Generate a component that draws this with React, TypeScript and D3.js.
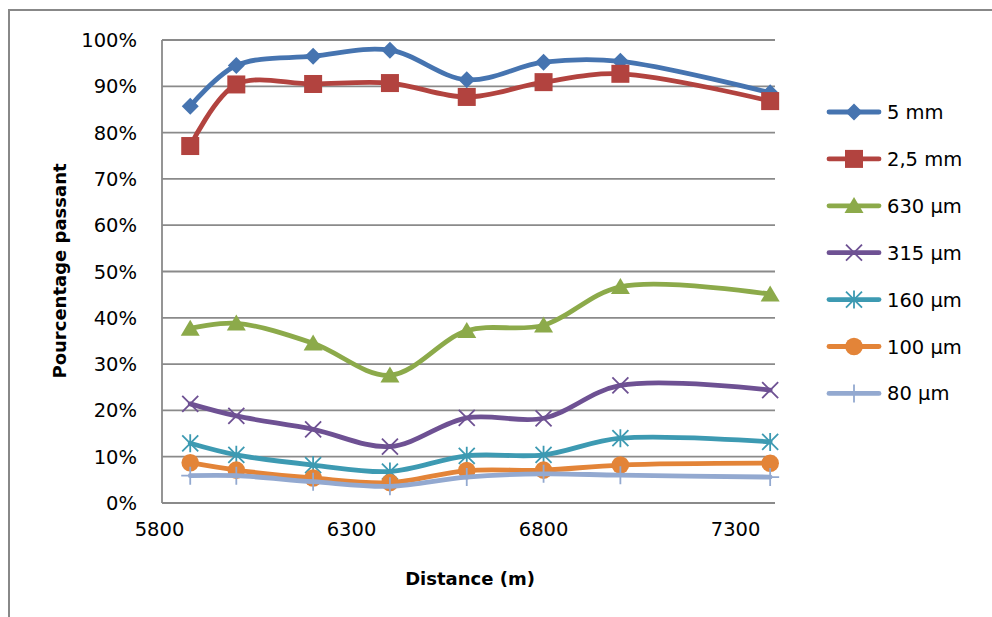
import React from "react";
import * as d3 from "d3";

const distances = [5880, 6000, 6200, 6400, 6600, 6800, 7000, 7390];
const s5mm = [85.7, 94.5, 96.5, 97.8, 91.4, 95.2, 95.4, 88.6];
const s2_5mm = [77.1, 90.4, 90.5, 90.7, 87.7, 90.9, 92.7, 86.8];
const s630 = [37.7, 38.8, 34.5, 27.6, 37.2, 38.4, 46.7, 45.1];
const s315 = [21.4, 18.8, 15.9, 12.2, 18.4, 18.3, 25.4, 24.4];
const s160 = [12.9, 10.4, 8.2, 6.8, 10.2, 10.4, 14.0, 13.2];
const s100 = [8.7, 7.1, 5.4, 4.4, 7.0, 7.1, 8.2, 8.6];
const s80 = [5.9, 5.9, 4.6, 3.6, 5.6, 6.3, 6.0, 5.6];

const seriesNames = ["5 mm", "2,5 mm", "630 µm", "315 µm", "160 µm", "100 µm", "80 µm"];
const seriesValues = [s5mm, s2_5mm, s630, s315, s160, s100, s80];
const seriesColors = ["#4674B0", "#B2433F", "#8CAA4A", "#6E5193", "#3D9AB2", "#E38438", "#93A9D0"];
const seriesMarkers = ["diamond", "square", "triangle", "x", "star", "circle", "plus"];

const xTicks = [5800, 6300, 6800, 7300];
const yTicks = [0, 10, 20, 30, 40, 50, 60, 70, 80, 90, 100];

const FONT = "'DejaVu Sans', sans-serif";

function Marker({ type, x, y, color }: { type: string; x: number; y: number; color: string }) {
  switch (type) {
    case "diamond": {
      const r = 8.5;
      return <path d={`M${x},${y - r}L${x + r},${y}L${x},${y + r}L${x - r},${y}Z`} fill={color} />;
    }
    case "square": {
      const r = 9;
      return <rect x={x - r} y={y - r} width={2 * r} height={2 * r} fill={color} />;
    }
    case "triangle": {
      const w = 9.5, h = 16;
      return <path d={`M${x},${y - h * 0.55}L${x + w},${y + h * 0.45}L${x - w},${y + h * 0.45}Z`} fill={color} />;
    }
    case "circle":
      return <circle cx={x} cy={y} r={8.8} fill={color} />;
    case "x": {
      const r = 8;
      return (
        <path d={`M${x - r},${y - r}L${x + r},${y + r}M${x - r},${y + r}L${x + r},${y - r}`} stroke={color} strokeWidth={1.8} fill="none" />
      );
    }
    case "star": {
      const r = 8;
      return (
        <path
          d={`M${x - r},${y - r}L${x + r},${y + r}M${x - r},${y + r}L${x + r},${y - r}M${x},${y - r - 1}L${x},${y + r + 1}`}
          stroke={color}
          strokeWidth={1.8}
          fill="none"
        />
      );
    }
    case "plus": {
      const r = 9;
      return (
        <path d={`M${x},${y - r}L${x},${y + r}M${x - r},${y}L${x + r},${y}`} stroke={color} strokeWidth={1.8} fill="none" />
      );
    }
  }
  return null;
}

export default function App() {
  const W = 992, H = 617;
  const x = d3.scaleLinear().domain([5800, 7400]).range([159.5, 774]);
  const y = d3.scaleLinear().domain([0, 100]).range([503, 40]);
  const plotLeft = 162, plotRight = 775;
  const line = d3
    .line<[number, number]>()
    .x((d) => x(d[0]))
    .y((d) => y(d[1]))
    .curve(d3.curveCatmullRom.alpha(0.5));

  const legendY = (i: number) => 112 + i * 46.9;

  return (
    <svg width={W} height={H} style={{ position: "absolute", left: 0, top: 0, background: "#fff" }} fontFamily={FONT}>
      <rect x={0} y={0} width={W} height={H} fill="#fff" />
      <rect x={9} y={10} width={W + 20} height={H + 20} fill="none" stroke="#888" strokeWidth={2} />

      {/* gridlines */}
      {yTicks.map((t) => (
        <line key={t} x1={plotLeft} x2={plotRight} y1={y(t)} y2={y(t)} stroke="#8a8a8a" strokeWidth={1.8} />
      ))}
      <line x1={plotLeft} x2={plotLeft} y1={y(0)} y2={y(100)} stroke="#8a8a8a" strokeWidth={1.8} />

      {/* y tick labels */}
      {yTicks.map((t) => (
        <text key={t} x={137} y={y(t) + 7} textAnchor="end" fontSize={19.5} fill="#000">
          {t}%
        </text>
      ))}
      {/* x tick labels */}
      {xTicks.map((t) => (
        <text key={t} x={x(t)} y={536} textAnchor="middle" fontSize={19.5} fill="#000">
          {t}
        </text>
      ))}

      {/* axis titles */}
      <text x={470} y={585} textAnchor="middle" fontSize={18} fontWeight="bold" fill="#000">
        Distance (m)
      </text>
      <text
        transform={`translate(66,271) rotate(-90)`}
        textAnchor="middle"
        fontSize={18}
        fontWeight="bold"
        fill="#000"
      >
        Pourcentage passant
      </text>

      {/* series */}
      {seriesValues.map((vals, si) => {
        const pts = distances.map((d, i) => [d, vals[i]] as [number, number]);
        return (
          <g key={si}>
            <path d={line(pts) || ""} fill="none" stroke={seriesColors[si]} strokeWidth={4.8} strokeLinecap="round" />
            {pts.map((p, i) => (
              <Marker key={i} type={seriesMarkers[si]} x={x(p[0])} y={y(p[1])} color={seriesColors[si]} />
            ))}
          </g>
        );
      })}

      {/* legend */}
      {seriesNames.map((n, i) => (
        <g key={n}>
          <line x1={829} x2={879} y1={legendY(i)} y2={legendY(i)} stroke={seriesColors[i]} strokeWidth={4.8} strokeLinecap="round" />
          <Marker type={seriesMarkers[i]} x={854} y={legendY(i)} color={seriesColors[i]} />
          <text x={887} y={legendY(i) + 7} fontSize={19.5} fill="#000">
            {n}
          </text>
        </g>
      ))}
    </svg>
  );
}
